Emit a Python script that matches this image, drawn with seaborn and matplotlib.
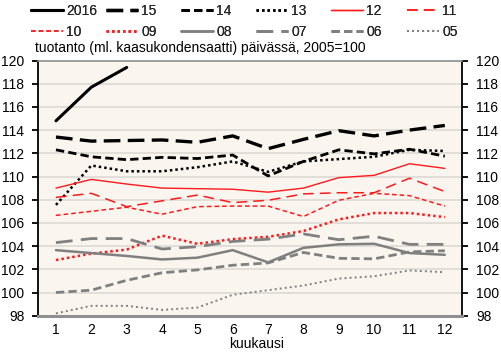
import matplotlib
matplotlib.use("Agg")
import matplotlib.pyplot as plt
import seaborn as sns
import numpy as np

sns.set_theme(style="white")
plt.rcParams['font.family'] = ['Liberation Sans', 'DejaVu Sans']

months = list(range(1, 13))
s2016 = [114.8, 117.7, 119.4]
s15 = [113.4, 113.05, 113.1, 113.15, 112.95, 113.5, 112.4, 113.2, 113.95, 113.5, 114.0, 114.4]
s14 = [112.3, 111.7, 111.45, 111.65, 111.55, 111.85, 110.05, 111.3, 112.3, 111.95, 112.35, 111.75]
s13 = [107.55, 110.95, 110.45, 110.45, 110.8, 111.3, 110.4, 111.3, 111.5, 111.7, 112.3, 112.2]
s12 = [109.0, 109.75, 109.35, 109.0, 108.95, 108.9, 108.65, 109.0, 109.9, 110.1, 111.1, 110.7]
s11 = [108.2, 108.55, 107.4, 107.9, 108.4, 107.75, 107.95, 108.5, 108.6, 108.6, 109.85, 108.7]
s10 = [106.65, 107.0, 107.35, 106.75, 107.4, 107.45, 107.45, 106.55, 107.95, 108.55, 108.35, 107.45]
s09 = [102.8, 103.35, 103.7, 104.9, 104.2, 104.6, 104.8, 105.3, 106.3, 106.85, 106.85, 106.5]
s08 = [103.65, 103.4, 103.15, 102.85, 103.0, 103.65, 102.6, 103.85, 104.15, 104.2, 103.4, 103.25]
s07 = [104.3, 104.65, 104.65, 103.75, 103.95, 104.4, 104.6, 105.05, 104.55, 104.85, 104.15, 104.15]
s06 = [100.0, 100.2, 101.05, 101.7, 101.95, 102.35, 102.55, 103.45, 102.95, 102.9, 103.5, 103.6]
s05 = [98.2, 98.85, 98.85, 98.5, 98.7, 99.8, 100.2, 100.6, 101.2, 101.4, 101.9, 101.75]

labels = ["2016", "15", "14", "13", "12", "11", "10", "09", "08", "07", "06", "05"]
series = [s2016, s15, s14, s13, s12, s11, s10, s09, s08, s07, s06, s05]

BLACK = "#000000"
RED = "#FF1A1A"
GREY = "#808080"
styles = [
    dict(color=BLACK, lw=2.2, ls="-"),
    dict(color=BLACK, lw=2.4, ls=(0, (5, 2.2))),
    dict(color=BLACK, lw=2.0, ls=(0, (3, 1.5))),
    dict(color=BLACK, lw=1.8, ls=(0, (1, 1.2))),
    dict(color=RED, lw=1.0, ls="-"),
    dict(color=RED, lw=1.1, ls=(0, (7, 4))),
    dict(color=RED, lw=1.1, ls=(0, (3, 2))),
    dict(color=RED, lw=1.8, ls=(0, (1, 1.2))),
    dict(color=GREY, lw=1.8, ls="-"),
    dict(color=GREY, lw=2.0, ls=(0, (6, 3))),
    dict(color=GREY, lw=2.0, ls=(0, (3, 1.5))),
    dict(color=GREY, lw=1.4, ls=(0, (1, 1.6))),
]

fig = plt.figure(figsize=(5.02, 3.53), dpi=100)
fig.patch.set_facecolor("white")
ax = fig.add_axes([38.3 / 502, 1 - 315.7 / 353, (462.5 - 38.3) / 502, (315.7 - 60.5) / 353])
ax.set_facecolor("#FAF5EF")

handles = []
for lab, vals, st in zip(labels, series, styles):
    sns.lineplot(x=months[:len(vals)], y=vals, ax=ax, color=st["color"],
                 linewidth=st["lw"], linestyle=st["ls"], label=lab, legend=False)
    handles.append(ax.lines[-1])

ax.set_xlim(0.5, 12.5)
ax.set_ylim(98, 120)
ax.set_xticks(months)
ax.set_yticks(np.arange(98, 121, 2))
ax.yaxis.grid(True, color="#DCDAD6", lw=1.2)
ax.xaxis.grid(False)
ax.set_axisbelow(True)

for side in ["left", "right"]:
    ax.spines[side].set_color("black")
    ax.spines[side].set_linewidth(1.3)
ax.spines["top"].set_color("#909090")
ax.spines["top"].set_linewidth(1.2)
ax.spines["bottom"].set_color("#909090")
ax.spines["bottom"].set_linewidth(2.2)

ax.tick_params(axis="y", which="both", left=True, right=True, labelleft=True, labelright=True,
               length=4.5, width=1.3, color="black", labelsize=10, pad=5.5, labelcolor="black")
ax.tick_params(axis="x", length=0, labelsize=10, pad=5.5, labelcolor="black")

ax.set_xlabel("kuukausi", fontsize=10, color="black")
ax.xaxis.set_label_coords((257 - 38.3) / 424.2, -(336.5 - 315.7) / 255.2)
ax.set_ylabel("")

fig.text(35 / 502, 1 - 48 / 353, "tuotanto (ml. kaasukondensaatti) päivässä, 2005=100",
         fontsize=10, va="center", ha="left", color="black")

col_x = [31, 106, 181, 256, 331, 407]
for i, cx in enumerate(col_x):
    h = [handles[i], handles[i + 6]]
    l = [labels[i], labels[i + 6]]
    leg = fig.legend(h, l, loc="upper left", bbox_to_anchor=(cx / 502, 1 - 4 / 353),
                     frameon=False, ncol=1, fontsize=10, handlelength=2.3,
                     handletextpad=0.25, labelspacing=0.5, borderpad=0, borderaxespad=0)
    fig.add_artist(leg)

fig.savefig("out.png", dpi=100, facecolor="white")
